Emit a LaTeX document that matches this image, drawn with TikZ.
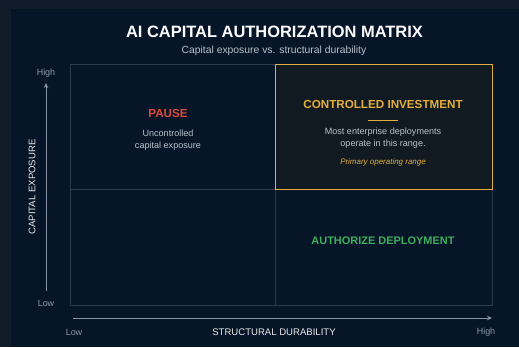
\documentclass[tikz,border=0pt]{standalone}
\usepackage{fontspec}
\setmainfont{Liberation Sans}
\setsansfont{Liberation Sans}
\usetikzlibrary{
    arrows.meta,
    positioning,
    calc
}

\definecolor{pageBg}{HTML}{111C2A}
\definecolor{panelBg}{HTML}{061528}
\definecolor{gridLine}{HTML}{2B3C52}
\definecolor{goldFill}{HTML}{111A20}
\definecolor{goldLine}{HTML}{E2AE3C}
\definecolor{pauseRed}{HTML}{DB4A3A}
\definecolor{goGreen}{HTML}{3DAE5E}
\definecolor{softText}{HTML}{B9C1CC}
\definecolor{dimText}{HTML}{8C97A6}
\definecolor{axisLine}{HTML}{8593A5}

\tikzset{
    % --- Quadrant cell of the matrix ---
    cell/.style = {
        rectangle, draw=gridLine, line width=0.8pt,
        fill=panelBg, inner sep=0pt, anchor=north west
    },
    % --- Highlighted quadrant ---
    hot cell/.style = {
        cell, draw=goldLine, fill=goldFill, line width=1.2pt
    },
    % --- Quadrant heading ---
    heading/.style = {
        font=\sffamily\bfseries\fontsize{11.7}{14}\selectfont
    },
    % --- Quadrant description ---
    blurb/.style = {
        font=\sffamily\fontsize{9.1}{12}\selectfont,
        text=softText, align=center
    },
    % --- High / Low tick labels ---
    tick/.style = {
        font=\sffamily\fontsize{9}{10}\selectfont, text=dimText
    },
    % --- Axis titles ---
    axis title/.style = {
        font=\sffamily\fontsize{9.6}{11}\selectfont, text=white!92!black
    },
    % --- Axis arrow ---
    axis arrow/.style = {
        -{Stealth[length=5pt, width=4.5pt]}, axisLine, line width=0.9pt
    }
}

\begin{document}
\begin{tikzpicture}[x=1bp, y=-1bp, font=\sffamily]

\useasboundingbox (0,0) rectangle (519,347);
\fill[pageBg] (0,0) rectangle (519,347);
\fill[panelBg] (11,9) rectangle (519,347);

% ---------------------------------------------------------
% Title
% ---------------------------------------------------------
\node[font=\sffamily\bfseries\fontsize{16.5}{18}\selectfont, text=white] (Title) at (274.5,32) {AI CAPITAL AUTHORIZATION MATRIX};
\node[font=\sffamily\fontsize{10.4}{12}\selectfont, text=softText] (Subtitle) at (274,51) {Capital exposure vs. structural durability};

% ---------------------------------------------------------
% Matrix quadrants
% ---------------------------------------------------------
\node[cell, minimum width=205bp, minimum height=125bp] (TL) at (70,64) {};
\node[cell, minimum width=205bp, minimum height=116bp] (BL) at (70,189) {};
\node[cell, minimum width=217bp, minimum height=116bp] (BR) at (275,189) {};
\node[hot cell, minimum width=217bp, minimum height=125bp] (TR) at (275,64) {};

% Pause (top left)
\node[heading, text=pauseRed] (Pause) at (168,113) {PAUSE};
\node[blurb] (PauseTxt) at (168,140) {Uncontrolled\\capital exposure};

% Controlled investment (top right)
\node[heading, text=goldLine] (Invest) at (383,104) {CONTROLLED INVESTMENT};
\coordinate (ruleL) at (368,120);
\coordinate (ruleR) at (398,120);
\draw[goldLine, line width=1pt] (ruleL) -- (ruleR);
\node[blurb] (InvestTxt) at (383,138) {Most enterprise deployments\\operate in this range.};
\node[font=\sffamily\itshape\fontsize{8}{9}\selectfont, text=goldLine] (Primary) at (383,162) {Primary operating range};

% Authorize deployment (bottom right)
\node[heading, font=\sffamily\bfseries\fontsize{11}{13}\selectfont, text=goGreen] (Authorize) at (383,241) {AUTHORIZE DEPLOYMENT};

% ---------------------------------------------------------
% Vertical axis
% ---------------------------------------------------------
\coordinate (yLow) at (46,291);
\coordinate (yHigh) at (46,83);
\draw[axis arrow] (yLow) -- (yHigh);
\node[tick] (YHighLbl) at (46,73) {High};
\node[tick] (YLowLbl) at (46,303) {Low};
\node[axis title, rotate=90] (YTitle) at (32,187) {CAPITAL EXPOSURE};

% ---------------------------------------------------------
% Horizontal axis
% ---------------------------------------------------------
\coordinate (xLow) at (73,318);
\coordinate (xHigh) at (492,318);
\draw[axis arrow] (xLow) -- (xHigh);
\node[tick] (XLowLbl) at (74,332) {Low};
\node[tick] (XHighLbl) at (486,332) {High};
\node[axis title] (XTitle) at (274,332) {STRUCTURAL DURABILITY};

\end{tikzpicture}
\end{document}
